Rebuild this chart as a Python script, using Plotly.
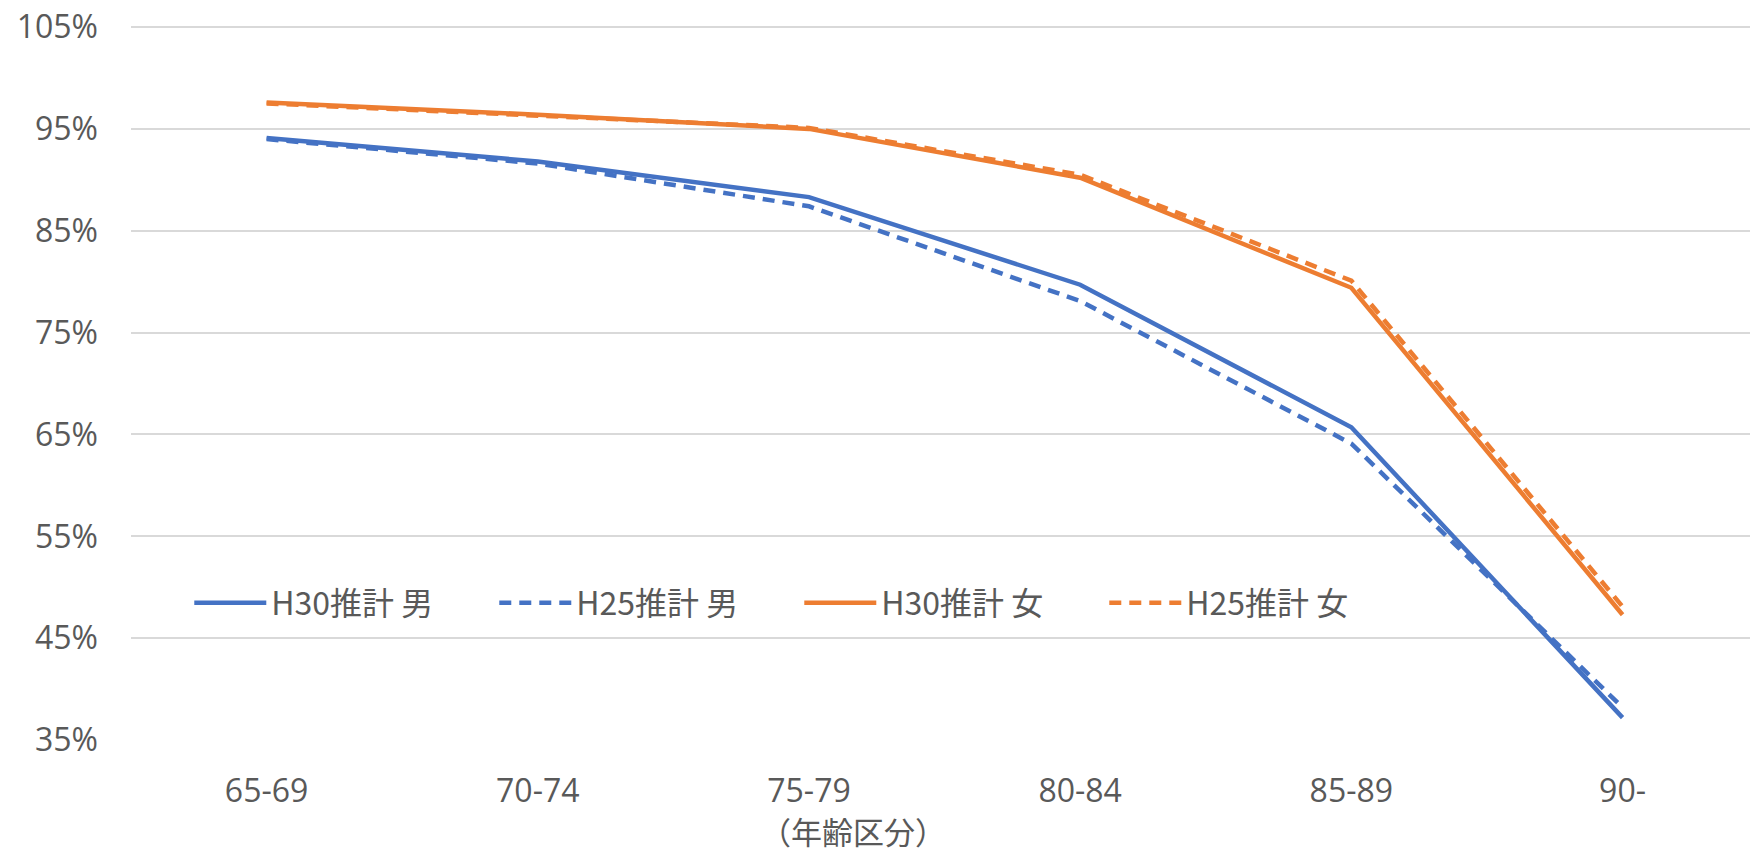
import plotly.graph_objects as go

categories = ["65-69", "70-74", "75-79", "80-84", "85-89", "90-"]
h30_male = [0.941, 0.918, 0.883, 0.797, 0.657, 0.372]
h25_male = [0.940, 0.916, 0.874, 0.781, 0.641, 0.382]
h30_female = [0.976, 0.964, 0.950, 0.902, 0.794, 0.473]
h25_female = [0.975, 0.963, 0.951, 0.905, 0.801, 0.481]

y_ticks = [0.35, 0.45, 0.55, 0.65, 0.75, 0.85, 0.95, 1.05]
y_ticklabels = ["35%", "45%", "55%", "65%", "75%", "85%", "95%", "105%"]

series_names = ["H30推計 男", "H25推計 男", "H30推計 女", "H25推計 女"]
x_title = "（年齢区分）"
BLUE = "#4472C4"
ORANGE = "#ED7D31"
FONT = "Open Sans, Noto Sans CJK JP"
LFONT = "Noto Sans CJK JP"
TXT = "#595959"

fig = go.Figure()
specs = [
    (h30_male, series_names[0], BLUE, "solid"),
    (h25_male, series_names[1], BLUE, "12px,8px"),
    (h30_female, series_names[2], ORANGE, "solid"),
    (h25_female, series_names[3], ORANGE, "12px,8px"),
]
for vals, name, color, dash in specs:
    fig.add_trace(go.Scatter(
        x=categories, y=vals, name=name, mode="lines",
        line=dict(color=color, width=4.5, dash=dash),
    ))

fig.add_annotation(
    text=x_title, xref="paper", yref="paper", x=0.446, y=-0.126,
    xanchor="center", yanchor="middle", showarrow=False,
    font=dict(family=LFONT, size=31, color=TXT),
)

fig.update_layout(
    width=1750, height=849,
    margin=dict(l=131, r=0, t=25, b=109),
    paper_bgcolor="white", plot_bgcolor="white",
    font=dict(family=FONT, size=32, color=TXT),
    showlegend=True,
    legend=dict(
        orientation="h", x=0.036, y=0.1916, xanchor="left", yanchor="middle",
        font=dict(family=LFONT, size=32, color=TXT),
        itemwidth=72, entrywidth=218, entrywidthmode="pixels",
        bgcolor="rgba(0,0,0,0)", traceorder="normal",
    ),
    xaxis=dict(
        type="category", range=[-0.5, 5.47], showgrid=False, zeroline=False,
        showline=False, ticks="", tickfont=dict(family=FONT, size=32, color=TXT),
        ticklabelstandoff=29,
    ),
    yaxis=dict(
        range=[0.35, 1.052], tickmode="array", tickvals=y_ticks, ticktext=y_ticklabels,
        showgrid=True, gridcolor="#D9D9D9", gridwidth=2, zeroline=False,
        showline=False, ticks="", tickfont=dict(family=FONT, size=32, color=TXT),
        ticklabelstandoff=32,
    ),
)

fig.write_html(
    "out.html",
    config={"displayModeBar": False},
    post_script="document.body.style.margin='0';document.body.style.overflow='hidden';",
)
